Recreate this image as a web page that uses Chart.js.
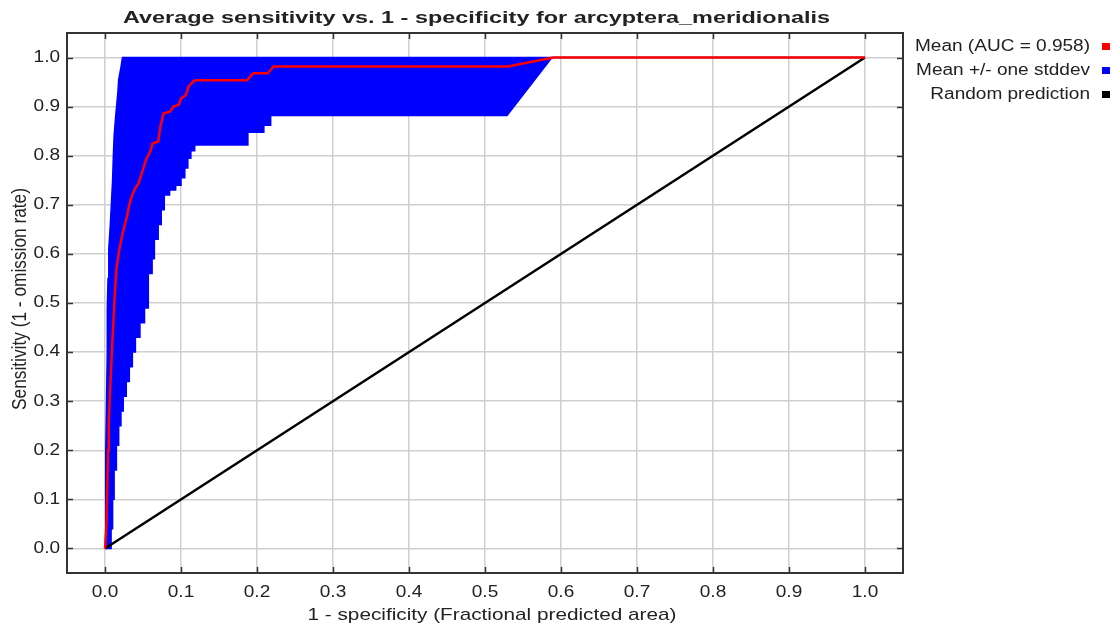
<!DOCTYPE html>
<html>
<head>
<meta charset="utf-8">
<title>ROC arcyptera_meridionalis</title>
<script src="https://cdn.jsdelivr.net/npm/chart.js@4.4.0/dist/chart.umd.min.js"></script>
<style>
  html, body { margin: 0; padding: 0; background: #fff; }
  #wrap { width: 1114px; height: 629px; }
</style>
</head>
<body>
<div id="wrap"><canvas id="roc" width="1114" height="629"></canvas></div>
<script>
// data
var chartTitle = 'Average sensitivity vs. 1 - specificity for arcyptera_meridionalis';
var xTitle = '1 - specificity (Fractional predicted area)';
var yTitle = 'Sensitivity (1 - omission rate)';

var tickValues = [0, 0.1, 0.2, 0.3, 0.4, 0.5, 0.6, 0.7, 0.8, 0.9, 1.0];
var tickLabels = ['0.0', '0.1', '0.2', '0.3', '0.4', '0.5', '0.6', '0.7', '0.8', '0.9', '1.0'];

var legendLabels = ['Mean (AUC = 0.958)', 'Mean +/- one stddev', 'Random prediction'];
var legendColors = ['#ff0000', '#0000ff', '#000000'];

// mean curve
var meanX = [0, 0.002, 0.003, 0.004, 0.005, 0.007, 0.009, 0.011, 0.0125, 0.015, 0.019, 0.023, 0.027, 0.029, 0.032, 0.034,
  0.040, 0.044, 0.0545, 0.060, 0.0625, 0.070, 0.073, 0.077, 0.086, 0.090, 0.097, 0.100, 0.106, 0.110, 0.116, 0.119,
  0.187, 0.195, 0.214, 0.222, 0.530, 0.590, 1.0];
var meanY = [0, 0.05, 0.12, 0.20, 0.26, 0.33, 0.40, 0.46, 0.507, 0.57, 0.61, 0.64, 0.665, 0.677, 0.70, 0.712,
  0.735, 0.743, 0.794, 0.81, 0.825, 0.829, 0.86, 0.886, 0.89, 0.90, 0.904, 0.917, 0.923, 0.941, 0.951, 0.954,
  0.954, 0.968, 0.968, 0.982, 0.982, 1.0, 1.0];

// mean + stddev (left edge of band)
var upperX = [0, 0.001, 0.002, 0.003, 0.003, 0.004, 0.005, 0.007, 0.009, 0.010, 0.011, 0.012, 0.014, 0.017, 0.018, 0.021, 0.023, 1.0];
var upperY = [0, 0.20, 0.30, 0.40, 0.49, 0.55, 0.61, 0.66, 0.72, 0.75, 0.80, 0.84, 0.88, 0.93, 0.955, 0.98, 1.0, 1.0];

// mean - stddev (right edge of band), stepped
var lowerX = [0, 0.008, 0.008, 0.010, 0.010, 0.012, 0.012, 0.015, 0.015, 0.018, 0.018, 0.021, 0.021, 0.024, 0.024,
  0.028, 0.028, 0.032, 0.032, 0.036, 0.036, 0.040, 0.040, 0.046, 0.046, 0.052, 0.052, 0.057, 0.057, 0.062, 0.062,
  0.065, 0.065, 0.070, 0.070, 0.074, 0.074, 0.078, 0.078, 0.085, 0.085, 0.093, 0.093, 0.100, 0.100, 0.105, 0.105,
  0.109, 0.109, 0.113, 0.113, 0.118, 0.118, 0.188, 0.188, 0.209, 0.209, 0.218, 0.218, 0.529, 0.588, 1.0];
var lowerY = [0, 0, 0.04, 0.04, 0.10, 0.10, 0.16, 0.16, 0.21, 0.21, 0.25, 0.25, 0.28, 0.28, 0.31,
  0.31, 0.34, 0.34, 0.37, 0.37, 0.40, 0.40, 0.43, 0.43, 0.46, 0.46, 0.49, 0.49, 0.56, 0.56, 0.59,
  0.59, 0.63, 0.63, 0.66, 0.66, 0.69, 0.69, 0.72, 0.72, 0.73, 0.73, 0.74, 0.74, 0.755, 0.755, 0.775,
  0.775, 0.795, 0.795, 0.81, 0.81, 0.822, 0.822, 0.848, 0.848, 0.862, 0.862, 0.882, 0.882, 1.0, 1.0];

var randomX = [0, 1];
var randomY = [0, 1];

function pts(xs, ys) {
  return xs.map(function (x, i) { return {x: x, y: ys[i]}; });
}

// band outline: up the upper edge, back down the lower edge
var bandPoints = pts(upperX, upperY).concat(pts(lowerX, lowerY).reverse());

// text in the picture is wider than plain Arial, so stretch it sideways
function drawText(ctx, text, x, y, font, align, sx) {
  ctx.save();
  ctx.font = font;
  ctx.fillStyle = '#222';
  ctx.textBaseline = 'middle';
  ctx.textAlign = align;
  ctx.translate(x, y);
  ctx.scale(sx, 1);
  ctx.fillText(text, 0, 0);
  ctx.restore();
}

function fitScale(ctx, text, font, width) {
  ctx.save();
  ctx.font = font;
  var w = ctx.measureText(text).width;
  ctx.restore();
  return width / w;
}

var FONT = '16px "Liberation Sans", Arial, sans-serif';
var TITLE_FONT = 'bold 17px "Liberation Sans", Arial, sans-serif';
var AXIS_FONT = '17px "Liberation Sans", Arial, sans-serif';

var decor = {
  id: 'decor',
  afterDraw: function (chart) {
    var ctx = chart.ctx, a = chart.chartArea;
    var xs = chart.scales.x, ys = chart.scales.y;
    var sx = fitScale(ctx, legendLabels[0], FONT, 175);

    // frame
    ctx.save();
    ctx.strokeStyle = '#333';
    ctx.lineWidth = 2;
    ctx.strokeRect(a.left, a.top, a.right - a.left, a.bottom - a.top);
    // inward ticks on all four sides
    ctx.lineWidth = 1.5;
    ctx.beginPath();
    tickValues.forEach(function (v) {
      var px = Math.round(xs.getPixelForValue(v)) + 0.5;
      var py = Math.round(ys.getPixelForValue(v)) + 0.5;
      ctx.moveTo(px, a.bottom); ctx.lineTo(px, a.bottom - 6);
      ctx.moveTo(px, a.top); ctx.lineTo(px, a.top + 6);
      ctx.moveTo(a.left, py); ctx.lineTo(a.left + 6, py);
      ctx.moveTo(a.right, py); ctx.lineTo(a.right - 6, py);
    });
    ctx.stroke();
    ctx.restore();

    // tick labels
    tickValues.forEach(function (v, i) {
      drawText(ctx, tickLabels[i], xs.getPixelForValue(v), a.bottom + 20, FONT, 'center', sx);
      drawText(ctx, tickLabels[i], a.left - 7, ys.getPixelForValue(v), FONT, 'right', sx);
    });

    // axis titles
    drawText(ctx, xTitle, 492, 615, AXIS_FONT, 'center', fitScale(ctx, xTitle, AXIS_FONT, 369));
    ctx.save();
    ctx.font = AXIS_FONT;
    ctx.fillStyle = '#222';
    ctx.textBaseline = 'middle';
    ctx.textAlign = 'center';
    ctx.translate(20, 299);
    ctx.rotate(-Math.PI / 2);
    ctx.scale(222 / ctx.measureText(yTitle).width, 1.2);
    ctx.fillText(yTitle, 0, 0);
    ctx.restore();

    // title
    drawText(ctx, chartTitle, 476.5, 18, TITLE_FONT, 'center', fitScale(ctx, chartTitle, TITLE_FONT, 707));

    // legend
    legendLabels.forEach(function (lab, i) {
      var y = 47 + i * 24;
      drawText(ctx, lab, 1090, y, FONT, 'right', sx);
      ctx.fillStyle = legendColors[i];
      ctx.fillRect(1102, y - 4, 8, 7);
    });
  }
};

var fixTicks = function (scale) {
  scale.ticks = tickValues.map(function (v) { return {value: v}; });
};

new Chart(document.getElementById('roc'), {
  type: 'line',
  data: {
    datasets: [{
      label: legendLabels[0],
      data: pts(meanX, meanY),
      borderColor: '#ff0000',
      borderWidth: 2.5,
      fill: false,
      order: 0
    }, {
      label: legendLabels[2],
      data: pts(randomX, randomY),
      borderColor: '#000000',
      borderWidth: 2.5,
      fill: false,
      order: 1
    }, {
      label: legendLabels[1],
      data: bandPoints,
      borderColor: '#0000ff',
      backgroundColor: '#0000ff',
      borderWidth: 1.5,
      fill: 'shape',
      order: 2
    }]
  },
  options: {
    responsive: false,
    animation: false,
    devicePixelRatio: 1,
    layout: { padding: { left: 67, top: 33, right: 211, bottom: 56 } },
    elements: {
      point: { radius: 0, hoverRadius: 0 },
      line: { tension: 0, borderJoinStyle: 'miter' }
    },
    plugins: {
      legend: { display: false },
      title: { display: false },
      tooltip: { enabled: false }
    },
    scales: {
      x: {
        type: 'linear',
        min: -0.05,
        max: 1.05,
        afterBuildTicks: fixTicks,
        afterFit: function (s) { s.height = 0; },
        ticks: { display: false },
        border: { display: false },
        grid: { color: '#cfcfcf', lineWidth: 1.5, drawTicks: false }
      },
      y: {
        type: 'linear',
        min: -0.05,
        max: 1.05,
        afterBuildTicks: fixTicks,
        afterFit: function (s) { s.width = 0; },
        ticks: { display: false },
        border: { display: false },
        grid: { color: '#cfcfcf', lineWidth: 1.5, drawTicks: false }
      }
    }
  },
  plugins: [decor]
});
</script>
</body>
</html>
